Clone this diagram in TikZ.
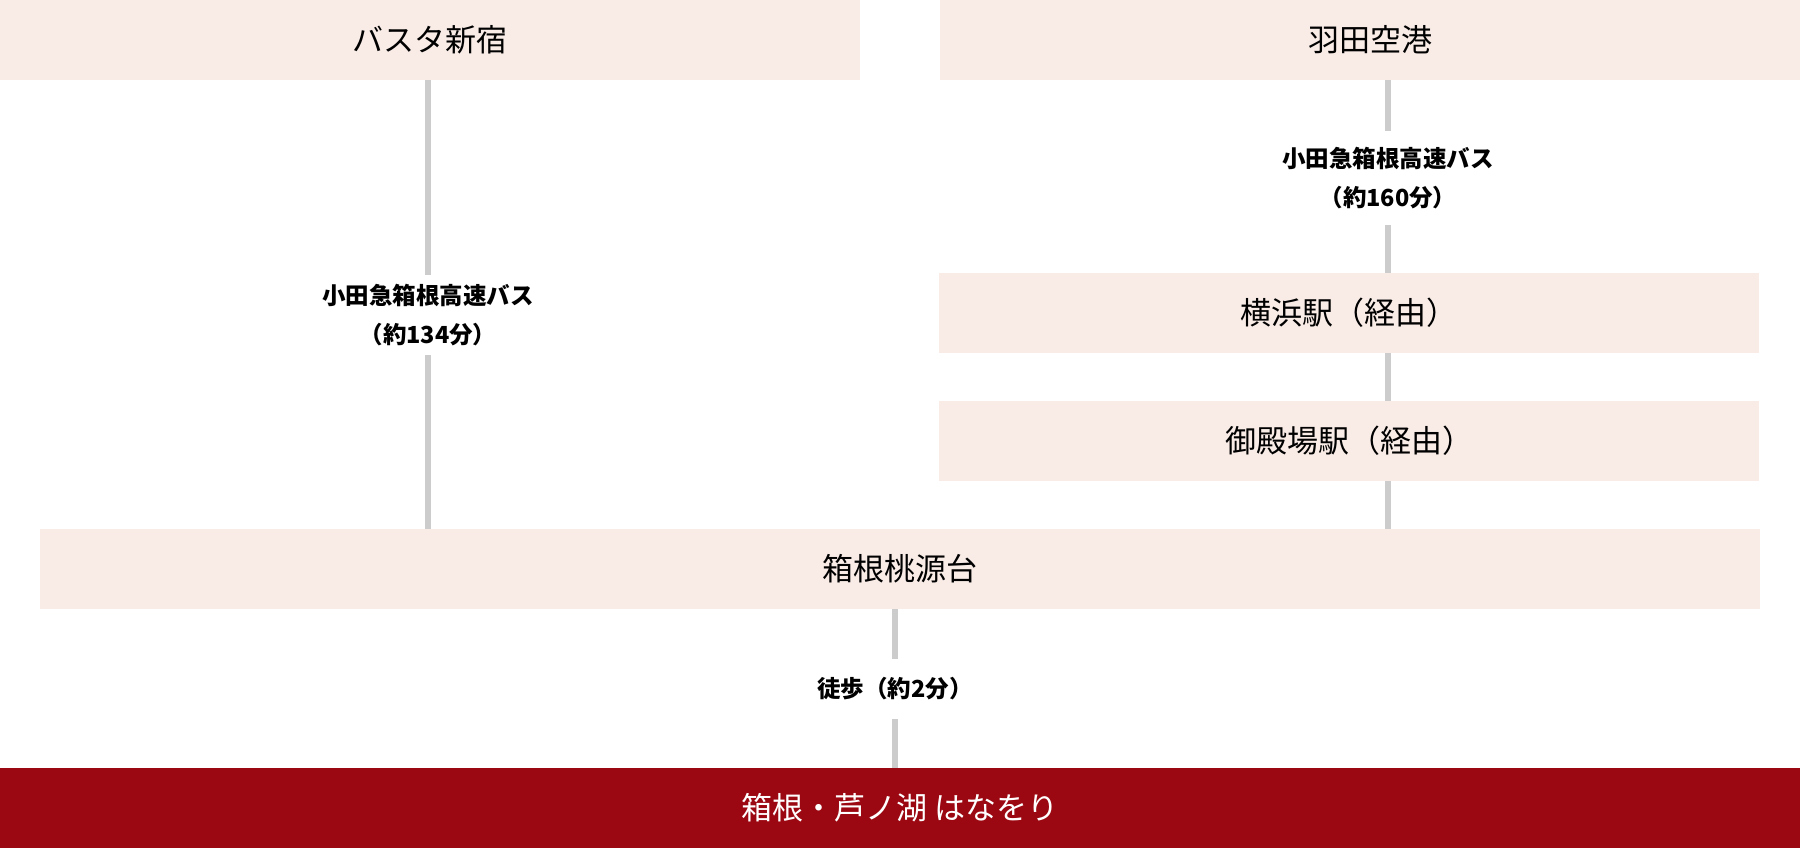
\documentclass[tikz,border=0pt]{standalone}
\usepackage{fontspec}
\setmainfont{Noto Sans CJK JP}
\definecolor{boxpink}{HTML}{F9ECE7}
\definecolor{hotelred}{HTML}{9B0812}
\definecolor{linegray}{HTML}{CCCCCC}

\begin{document}
\begin{tikzpicture}[x=1pt, y=-1pt,
            station/.style={rectangle, fill=boxpink, minimum height=80pt, inner sep=0pt, font=\fontsize{31}{36}\selectfont},
            goal/.style={rectangle, fill=hotelred, text=white, minimum width=1800pt, minimum height=80pt, inner sep=0pt, font=\fontsize{31}{36}\selectfont},
            route/.style={align=center, inner sep=0pt, font=\bfseries\fontsize{23.5}{39}\selectfont},
            line/.style={draw=linegray, line width=5.5pt},
        ]
            \useasboundingbox (0,0) rectangle (1800,848);

            % Stations
            \node[station, minimum width=860pt] (shinjuku) at (430,40) {バスタ新宿};
            \node[station, minimum width=860pt] (haneda) at (1370,40) {羽田空港};
            \node[station, minimum width=820pt] (yokohama) at (1349,313) {横浜駅（経由）};
            \node[station, minimum width=820pt] (gotemba) at (1349,441) {御殿場駅（経由）};
            \node[station, minimum width=1720pt] (togendai) at (900,569) {箱根桃源台};
            \node[goal] (hanaori) at (900,808) {箱根・芦ノ湖 はなをり};

            % Routes
            \node[route, minimum height=80pt] (bus_shinjuku) at (428,315) {小田急箱根高速バス\\（約134分）};
            \node[route, minimum height=93pt] (bus_haneda) at (1388,178) {小田急箱根高速バス\\（約160分）};
            \node[route, minimum height=60pt] (walk) at (895,689) {徒歩（約2分）};

            % Lines
            \draw[line] (shinjuku.south -| bus_shinjuku) -- (bus_shinjuku.north);
            \draw[line] (bus_shinjuku.south) -- (togendai.north -| bus_shinjuku);
            \draw[line] (haneda.south -| bus_haneda) -- (bus_haneda.north);
            \draw[line] (bus_haneda.south) -- (yokohama.north -| bus_haneda);
            \draw[line] (yokohama.south -| bus_haneda) -- (gotemba.north -| bus_haneda);
            \draw[line] (gotemba.south -| bus_haneda) -- (togendai.north -| bus_haneda);
            \draw[line] (togendai.south -| walk) -- (walk.north);
            \draw[line] (walk.south) -- (hanaori.north -| walk);
        \end{tikzpicture}
\end{document}
